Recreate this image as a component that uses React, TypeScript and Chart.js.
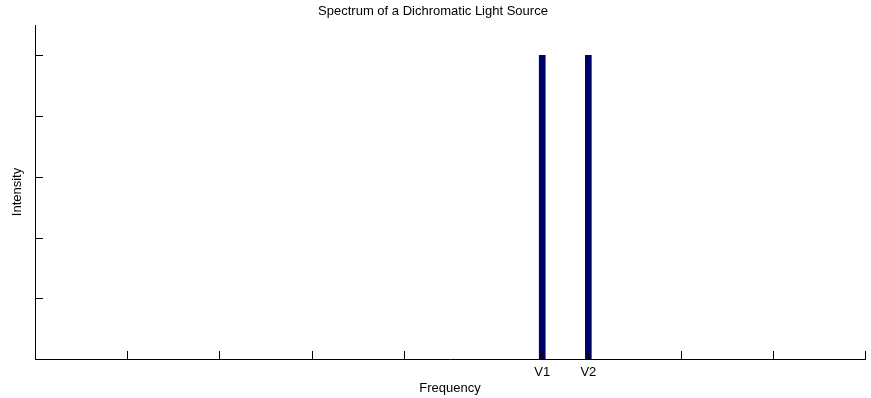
import React, { useEffect, useRef } from 'react';
import { Chart, registerables } from 'chart.js';

Chart.register(...registerables);

const chartTitle = 'Spectrum of a Dichromatic Light Source';
const xAxisTitle = 'Frequency';
const yAxisTitle = 'Intensity';
const lineNames = ['V1', 'V2'];
const lineFrequencies = [5.5, 6];
const lineIntensities = [5, 5];
const xTickValues = [0, 1, 2, 3, 4, 5.5, 6, 7, 8, 9];
const yTickValues = [0, 1, 2, 3, 4, 5];
const xMin = 0;
const xMax = 9;
const yMin = 0;
const yMax = 5.5;

const FONT = "Arial, 'Liberation Sans', sans-serif";

const innerTicks = {
  id: 'innerTicks',
  afterDraw(chart: any) {
    const { ctx } = chart;
    const xs = chart.scales.x;
    const ys = chart.scales.y;
    const len = 8;
    ctx.save();
    ctx.strokeStyle = '#000';
    ctx.lineWidth = 1;
    ctx.beginPath();
    xs.ticks.forEach((t: any) => {
      const px = Math.round(xs.getPixelForValue(t.value)) + 0.5;
      ctx.moveTo(px, ys.bottom);
      ctx.lineTo(px, ys.bottom - len);
    });
    ys.ticks.forEach((t: any) => {
      const py = Math.round(ys.getPixelForValue(t.value)) + 0.5;
      ctx.moveTo(xs.left, py);
      ctx.lineTo(xs.left + len, py);
    });
    ctx.stroke();
    ctx.restore();
  },
};

export default function App() {
  const ref = useRef<HTMLCanvasElement | null>(null);

  useEffect(() => {
    if (!ref.current) return;
    const chart = new Chart(ref.current, {
      type: 'bar',
      data: {
        datasets: [
          {
            label: 'Intensity',
            data: lineFrequencies.map((f, i) => ({ x: f, y: lineIntensities[i] })),
            backgroundColor: '#00006a',
            borderWidth: 0,
            barThickness: 6,
          },
        ],
      },
      options: {
        responsive: false,
        animation: false,
        layout: { padding: { left: 0, right: 5, top: 0, bottom: 0 } },
        plugins: {
          legend: { display: false },
          tooltip: { enabled: false },
          title: {
            display: true,
            text: chartTitle,
            color: '#000',
            font: { family: FONT, size: 13, weight: 'normal' },
            padding: { top: 3.8, bottom: 5.6 },
          },
        },
        scales: {
          x: {
            type: 'linear',
            min: xMin,
            max: xMax,
            offset: false,
            afterBuildTicks: (scale: any) => {
              scale.ticks = xTickValues.map((v) => ({ value: v }));
            },
            afterFit: (scale: any) => {
              scale.height = 39;
            },
            ticks: {
              autoSkip: false,
              maxRotation: 0,
              padding: 6,
              color: '#000',
              font: { family: FONT, size: 13 },
              callback: (v: any) => {
                const i = lineFrequencies.indexOf(Number(v));
                return i >= 0 ? lineNames[i] : '';
              },
            },
            grid: { display: false, drawTicks: false, offset: false },
            border: { display: true, color: '#000', width: 1 },
            title: {
              display: true,
              text: xAxisTitle,
              color: '#000',
              font: { family: FONT, size: 13 },
              padding: { top: 0, bottom: 2.2 },
            },
          },
          y: {
            type: 'linear',
            min: yMin,
            max: yMax,
            afterBuildTicks: (scale: any) => {
              scale.ticks = yTickValues.map((v) => ({ value: v }));
            },
            afterFit: (scale: any) => {
              scale.width = 35;
            },
            ticks: { display: false },
            grid: { display: false, drawTicks: false },
            border: { display: true, color: '#000', width: 1 },
            title: {
              display: true,
              text: yAxisTitle,
              color: '#000',
              font: { family: FONT, size: 13 },
              padding: { top: 9.2, bottom: 10.2 },
            },
          },
        },
      },
      plugins: [innerTicks],
    } as any);
    return () => chart.destroy();
  }, []);

  return (
    <div style={{ position: 'fixed', left: 0, top: 0, width: 871, height: 398, background: '#fff' }}>
      <canvas ref={ref} width={871} height={398} />
    </div>
  );
}
